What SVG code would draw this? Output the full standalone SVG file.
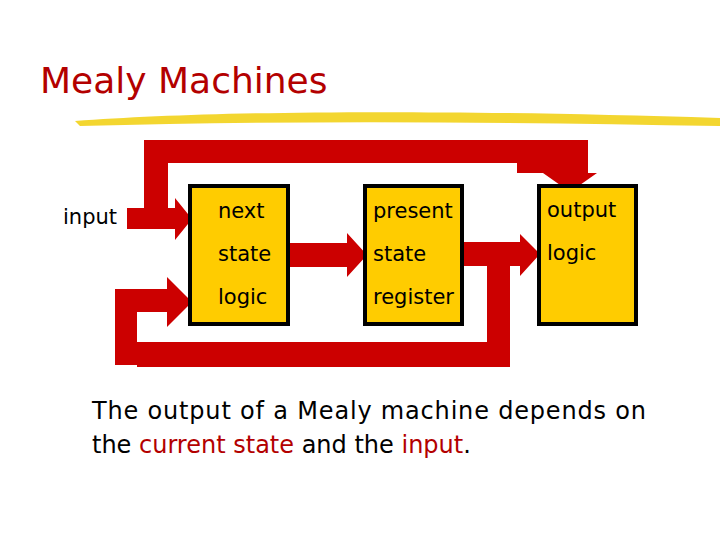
<svg xmlns="http://www.w3.org/2000/svg" width="720" height="540" viewBox="0 0 720 540">
<style>
.b{fill:#ffcc00;stroke:#000;stroke-width:4}
.t{font-family:"DejaVu Sans",sans-serif;font-size:21px;fill:#000}
.a{fill:#cc0000}
</style>
<rect width="720" height="540" fill="#fff"/>
<text x="40" y="93" font-family="DejaVu Sans,sans-serif" font-size="36" fill="#b30000">Mealy Machines</text>
<path d="M75,121 C200,112 400,108 720,118 L720,126 C500,122 300,120 80,126 Z" fill="#f2d21a" opacity="0.9"/>
<g id="connectors" class="a">
<path d="M144,140 L588,140 L588,173 L597,173 L570,192 L543,173 L517,173 L517,163 L168,163 L168,208 L175,208 L175,198 L192,219 L175,240 L175,229 L127,229 L127,208 L144,208 Z"/>
<path d="M288,243 L347,243 L347,233 L367,255 L347,277 L347,267 L288,267 Z"/>
<path d="M462,242 L520,242 L520,234 L540,254 L520,276 L520,266 L510,266 L510,367 L137,367 L137,342 L487,342 L487,266 L462,266 Z"/>
<path d="M115,365 L115,289 L167,289 L167,277 L192,302 L167,327 L167,312 L137,312 L137,365 Z"/>
</g>
<g id="input"><text class="t" x="63" y="224">input</text></g>
<g id="nsl"><rect class="b" x="190" y="186" width="98" height="138"/>
<text class="t" x="218" y="218">next</text><text class="t" x="218" y="261">state</text><text class="t" x="218" y="304">logic</text></g>
<g id="psr"><rect class="b" x="365" y="186" width="97" height="138"/>
<text class="t" x="373" y="218">present</text><text class="t" x="373" y="261">state</text><text class="t" x="373" y="304">register</text></g>
<g id="ol"><rect class="b" x="539" y="186" width="97" height="138"/>
<text class="t" x="547" y="217">output</text><text class="t" x="547" y="260">logic</text></g>
<g id="caption" font-family="DejaVu Sans,sans-serif" font-size="24">
<text x="92" y="419" textLength="554">The output of a Mealy machine depends on</text>
<text x="92" y="453">the <tspan fill="#b30000">current state</tspan> and the <tspan fill="#b30000">input</tspan>.</text>
</g>
</svg>
